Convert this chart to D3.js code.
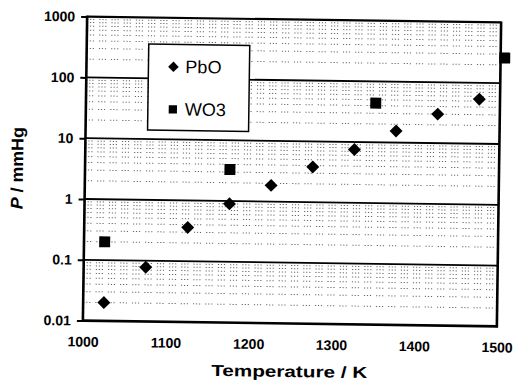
<!DOCTYPE html>
<html>
<head>
<meta charset="utf-8">
<script src="https://cdn.jsdelivr.net/npm/d3@7"></script>
<style>
  html, body { margin: 0; padding: 0; background: #fff; }
  svg { display: block; }
  text { font-family: "Liberation Sans", Arial, sans-serif; fill: #000; }
</style>
</head>
<body>
<div id="chart"></div>
<script>
// Vapour pressure of PbO and WO3 against temperature
const pboTemps  = [1025, 1075, 1125, 1175, 1225, 1275, 1325, 1375, 1425, 1475];
const pboValues = [0.02, 0.078, 0.36, 0.9, 1.85, 3.8, 7.5, 15.5, 30, 54];

const wo3Temps  = [1025, 1175, 1350, 1505];
const wo3Values = [0.2, 3.3, 44, 260];

const xTicks = [1000, 1100, 1200, 1300, 1400, 1500];
const yTicks = [0.01, 0.1, 1, 10, 100, 1000];
const yTickLabels = ["0.01", "0.1", "1", "10", "100", "1000"];
const minorSteps = [2, 3, 4, 5, 6, 7, 8, 9];

const seriesNames = ["PbO", "WO3"];

const W = 515, H = 384;
const plotL = 85, plotR = 499, plotT = 19.5, plotB = 323.5;

const svg = d3.select("#chart").append("svg")
  .attr("width", W).attr("height", H);

// the printed figure sits at a small tilt
const g = svg.append("g")
  .attr("transform", `rotate(0.8, ${(plotL + plotR) / 2}, ${(plotT + plotB) / 2})`);

const x = d3.scaleLinear().domain([1000, 1500]).range([plotL, plotR]);
const y = d3.scaleLog().domain([0.01, 1000]).range([plotB, plotT]);

// minor gridlines (2..9 within each decade), dotted
const minorVals = [];
yTicks.slice(0, -1).forEach(d => minorSteps.forEach(m => minorVals.push(d * m)));
g.append("g").selectAll("line").data(minorVals).join("line")
  .attr("x1", plotL).attr("x2", plotR)
  .attr("y1", d => y(d)).attr("y2", d => y(d))
  .attr("stroke", "#000").attr("stroke-width", 1)
  .attr("stroke-opacity", 0.6)
  .attr("stroke-dasharray", "1.2,1.8,1.2,1.8,1.2,5");

// major gridlines
g.append("g").selectAll("line").data(yTicks.slice(1, -1)).join("line")
  .attr("x1", plotL).attr("x2", plotR)
  .attr("y1", d => y(d)).attr("y2", d => y(d))
  .attr("stroke", "#000").attr("stroke-width", 1.8);

// frame
g.append("line").attr("x1", plotL).attr("x2", plotR).attr("y1", plotT).attr("y2", plotT)
  .attr("stroke", "#000").attr("stroke-width", 2.2);
g.append("line").attr("x1", plotR).attr("x2", plotR).attr("y1", plotT - 1).attr("y2", plotB + 1)
  .attr("stroke", "#000").attr("stroke-width", 2.6);
g.append("line").attr("x1", plotL).attr("x2", plotR + 1).attr("y1", plotB).attr("y2", plotB)
  .attr("stroke", "#000").attr("stroke-width", 2.6);
g.append("line").attr("x1", plotL).attr("x2", plotL).attr("y1", plotT - 1).attr("y2", plotB + 1)
  .attr("stroke", "#000").attr("stroke-width", 2.6);

// axes
const yAxis = d3.axisLeft(y).tickValues(yTicks)
  .tickFormat((d, i) => yTickLabels[i]).tickSize(6).tickPadding(6);
const ya = g.append("g").attr("transform", `translate(${plotL},0)`).call(yAxis);
ya.select(".domain").remove();
ya.selectAll(".tick line").attr("stroke", "#000").attr("stroke-width", 2);
ya.selectAll(".tick text").attr("font-size", 14).attr("font-weight", "bold")
  .attr("font-family", "'Liberation Sans', Arial, sans-serif");

const xAxis = d3.axisBottom(x).tickValues(xTicks).tickFormat(d3.format("d"))
  .tickSize(0).tickPadding(16);
const xa = g.append("g").attr("transform", `translate(0,${plotB})`).call(xAxis);
xa.select(".domain").remove();
xa.selectAll(".tick text").attr("font-size", 14).attr("font-weight", "bold")
  .attr("font-family", "'Liberation Sans', Arial, sans-serif");

// axis titles
g.append("text")
  .attr("x", (plotL + plotR) / 2).attr("y", 377)
  .attr("text-anchor", "middle")
  .attr("font-size", 16).attr("font-weight", "bold")
  .attr("textLength", 156).attr("lengthAdjust", "spacingAndGlyphs")
  .text("Temperature / K");

const yt = g.append("text")
  .attr("transform", "translate(23,172) rotate(-90)")
  .attr("text-anchor", "middle")
  .attr("font-size", 17).attr("font-weight", "bold")
  .attr("textLength", 82).attr("lengthAdjust", "spacingAndGlyphs");
yt.append("tspan").attr("font-style", "italic").text("P");
yt.append("tspan").text(" / mmHg");

// legend
const lg = g.append("g");
lg.append("rect").attr("x", 147).attr("y", 46).attr("width", 101).attr("height", 86)
  .attr("fill", "#fff").attr("stroke", "#000").attr("stroke-width", 1.5);
const diamondPath = d3.symbol().type(d3.symbolSquare).size(84);
const squarePath = d3.symbol().type(d3.symbolSquare).size(120);
lg.append("path").attr("d", d3.symbol().type(d3.symbolSquare).size(56)())
  .attr("transform", "translate(172,68.5) rotate(45)").attr("fill", "#000");
lg.append("path").attr("d", d3.symbol().type(d3.symbolSquare).size(68)())
  .attr("transform", "translate(172,111)").attr("fill", "#000");
lg.append("text").attr("x", 184).attr("y", 74.5).attr("font-size", 18).text(seriesNames[0]);
lg.append("text").attr("x", 184).attr("y", 117).attr("font-size", 18).text(seriesNames[1]);

// PbO: diamonds
g.append("g").selectAll("path").data(pboTemps.map((t, i) => [t, pboValues[i]])).join("path")
  .attr("d", diamondPath())
  .attr("transform", d => `translate(${x(d[0])},${y(d[1])}) rotate(45)`)
  .attr("fill", "#000");

// WO3: squares
g.append("g").selectAll("path").data(wo3Temps.map((t, i) => [t, wo3Values[i]])).join("path")
  .attr("d", squarePath())
  .attr("transform", d => `translate(${x(d[0])},${y(d[1])})`)
  .attr("fill", "#000");
</script>
</body>
</html>
